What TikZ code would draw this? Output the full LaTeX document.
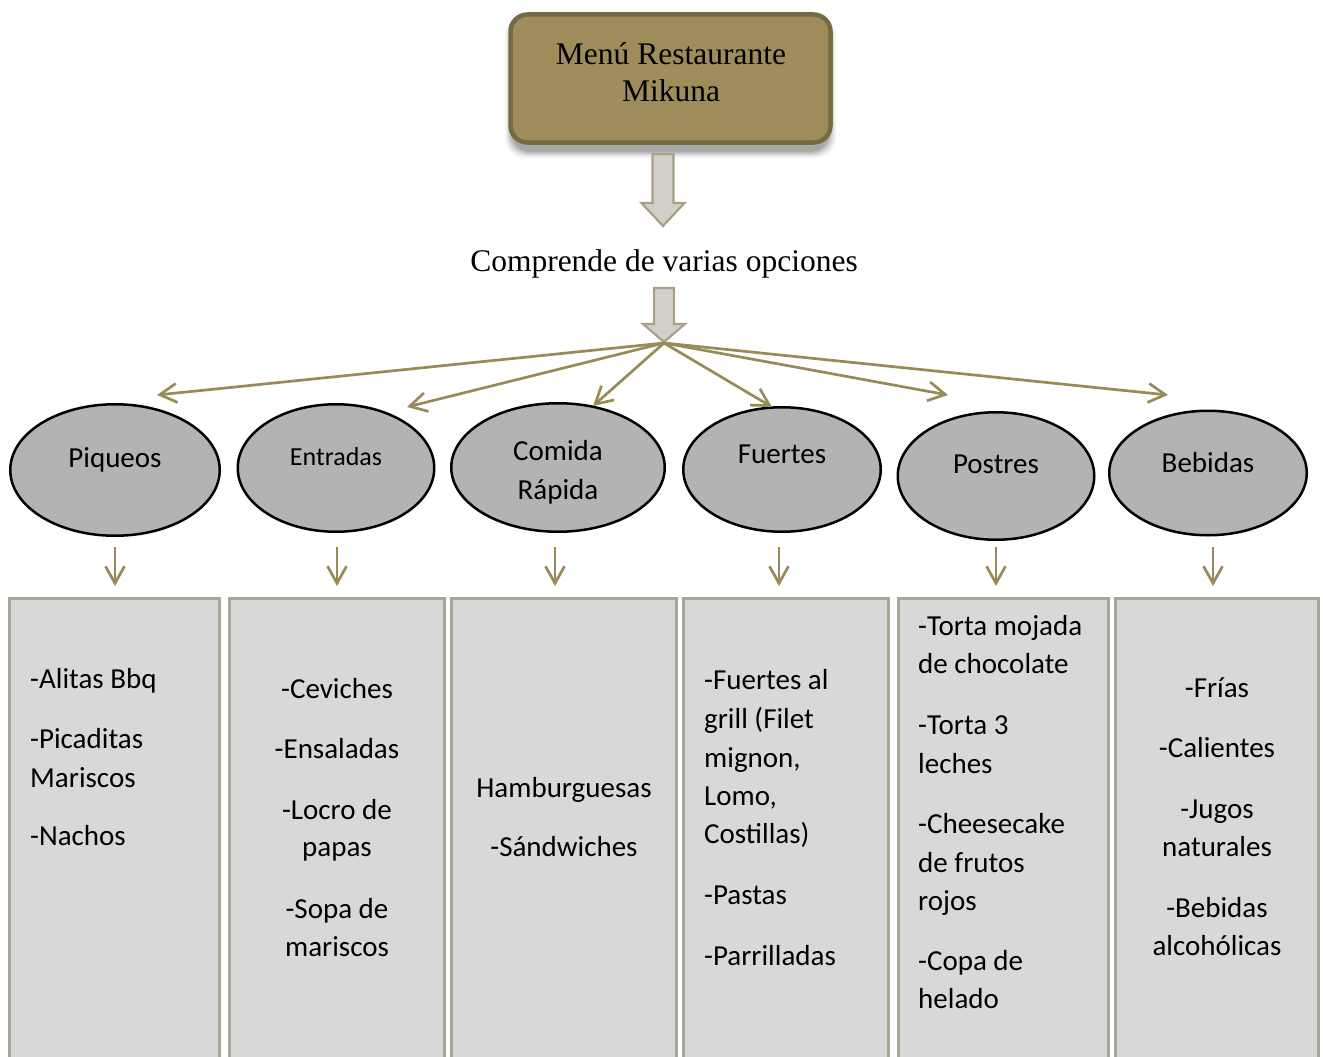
\documentclass[tikz,border=0pt]{standalone}
\usepackage{fontspec}
\setmainfont{Liberation Serif}
\newfontfamily\calib{Carlito}
\usetikzlibrary{arrows.meta,shapes.geometric}
\definecolor{olive}{RGB}{152,139,88}
\definecolor{topfill}{RGB}{158,141,91}
\definecolor{topedge}{RGB}{118,106,68}
\definecolor{blkfill}{RGB}{211,206,199}
\definecolor{blkedge}{RGB}{168,160,132}
\definecolor{ellfill}{RGB}{179,179,179}
\definecolor{boxfill}{RGB}{216,216,216}
\definecolor{boxedge}{RGB}{168,166,150}
\tikzset{
  arr/.style={draw=olive, line width=2.7pt, -{Straight Barb[length=17pt,width=19pt]}},
  ell/.style={ellipse, draw=black, line width=2.5pt, fill=ellfill, inner sep=0pt},
  colbox/.style={rectangle, draw=boxedge, line width=3pt, fill=boxfill, inner sep=0pt, outer sep=0pt, anchor=north west},
  lab/.style={font=\calib\fontsize{29}{38.5}\selectfont, inner sep=0pt, anchor=base},
  itl/.style={font=\calib\fontsize{29}{38.5}\selectfont, inner sep=0pt, anchor=base west},
  itc/.style={font=\calib\fontsize{29}{38.5}\selectfont, inner sep=0pt, anchor=base},
  ttl/.style={font=\fontsize{31.5}{36}\selectfont, inner sep=0pt, anchor=base},
  blk/.style={draw=blkedge, line width=2.2pt, fill=blkfill, line join=miter}
}
\begin{document}
\begin{tikzpicture}[x=1pt,y=-1pt]
\useasboundingbox (0,0) rectangle (1323,1057);
% shadow of the title box
\foreach \k/\op in {12/0.04,9/0.06,6/0.08,3/0.10,0/0.12}{
  \fill[black, opacity=\op, rounded corners=20pt] (511-\k/2,22-\k/2) rectangle (830+\k/2,152+\k/2);
}
% title box
\node[draw=topedge, line width=4.5pt, fill=topfill, rounded corners=17pt,
      minimum width=320pt, minimum height=128pt, inner sep=0pt, outer sep=0pt] (title) at (670.5,78.5) {};
\node[ttl] (t1) at (671,65) {Menú Restaurante};
\node[ttl] (t2) at (671,101) {Mikuna};
% block arrow 1
\draw[blk] (652.5,154) -- (673.5,154) -- (673.5,203) -- (684.5,203) -- (663,226) -- (641.5,203) -- (652.5,203) -- cycle;
\node[ttl] (opc) at (664,271) {Comprende de varias opciones};
% block arrow 2
\draw[blk] (654,288) -- (674,288) -- (674,324) -- (685,324) -- (664,342) -- (643,324) -- (654,324) -- cycle;
\coordinate (hub) at (664,343);
% ellipses
\node[ell, minimum width=209.5pt, minimum height=131.5pt] (e1) at (115,470) {};
\node[ell, minimum width=196.5pt, minimum height=127.5pt] (e2) at (336,468) {};
\node[ell, minimum width=213.5pt, minimum height=128.5pt] (e3) at (558,467.5) {};
\node[ell, minimum width=197.5pt, minimum height=124.5pt] (e4) at (782,469.5) {};
\node[ell, minimum width=196.5pt, minimum height=127.5pt] (e5) at (996,476) {};
\node[ell, minimum width=197.5pt, minimum height=124.5pt] (e6) at (1208,473) {};
\node[lab] (l1) at (115,467) {Piqueos};
\node[lab, font=\calib\fontsize{26}{32}\selectfont] (l2) at (336,465) {Entradas};
\node[lab] (l3a) at (558,460) {Comida};
\node[lab] (l3b) at (558,499) {Rápida};
\node[lab] (l4) at (782,463) {Fuertes};
\node[lab] (l5) at (996,473) {Postres};
\node[lab] (l6) at (1208,472) {Bebidas};
% fan arrows
\coordinate (f1) at (157,395);
\coordinate (f2) at (407,407);
\coordinate (f3) at (593,406);
\coordinate (f4) at (772,407);
\coordinate (f5) at (948,395);
\coordinate (f6) at (1168,395);
\foreach \i in {1,...,6}{\draw[arr] (hub) -- (f\i);}
% small arrows
\foreach \i/\x in {1/115,2/337,3/555,4/779,5/996,6/1213}{
  \coordinate (s\i) at (\x,547);
  \coordinate (d\i) at (\x,586);
  \draw[arr] (s\i) -- (d\i);
}
% columns
\node[colbox, minimum width=210pt, minimum height=480pt] (b1) at (9.5,598.5) {};
\node[colbox, minimum width=215pt, minimum height=480pt] (b2) at (229.5,598.5) {};
\node[colbox, minimum width=225pt, minimum height=480pt] (b3) at (451.5,598.5) {};
\node[colbox, minimum width=205pt, minimum height=480pt] (b4) at (683.5,598.5) {};
\node[colbox, minimum width=210pt, minimum height=480pt] (b5) at (898.5,598.5) {};
\node[colbox, minimum width=203pt, minimum height=480pt] (b6) at (1115.5,598.5) {};
% column texts
\foreach \y/\t [count=\n] in {688/{-Alitas Bbq},748/{-Picaditas},787/{Mariscos},845/{-Nachos}}
  {\node[itl] (pa\n) at (30,\y) {\t};}
\foreach \y/\t [count=\n] in {698/{-Ceviches},758/{-Ensaladas},819/{-Locro de},856/{papas},918/{-Sopa de},956/{mariscos}}
  {\node[itc] (en\n) at (337,\y) {\t};}
\foreach \y/\t [count=\n] in {797/{Hamburguesas},856/{-Sándwiches}}
  {\node[itc] (co\n) at (564,\y) {\t};}
\foreach \y/\t [count=\n] in {689/{-Fuertes al},728/{grill (Filet},767/{mignon,},805/{Lomo,},843/{Costillas)},904/{-Pastas},965/{-Parrilladas}}
  {\node[itl] (fu\n) at (704,\y) {\t};}
\foreach \y/\t [count=\n] in {635/{-Torta mojada},673/{de chocolate},734/{-Torta 3},773/{leches},833/{-Cheesecake},872/{de frutos},910/{rojos},970/{-Copa de},1008/{helado}}
  {\node[itl] (po\n) at (918,\y) {\t};}
\foreach \y/\t [count=\n] in {697/{-Frías},757/{-Calientes},818/{-Jugos},856/{naturales},917/{-Bebidas},955/{alcohólicas}}
  {\node[itc] (be\n) at (1217,\y) {\t};}
\end{tikzpicture}
\end{document}
